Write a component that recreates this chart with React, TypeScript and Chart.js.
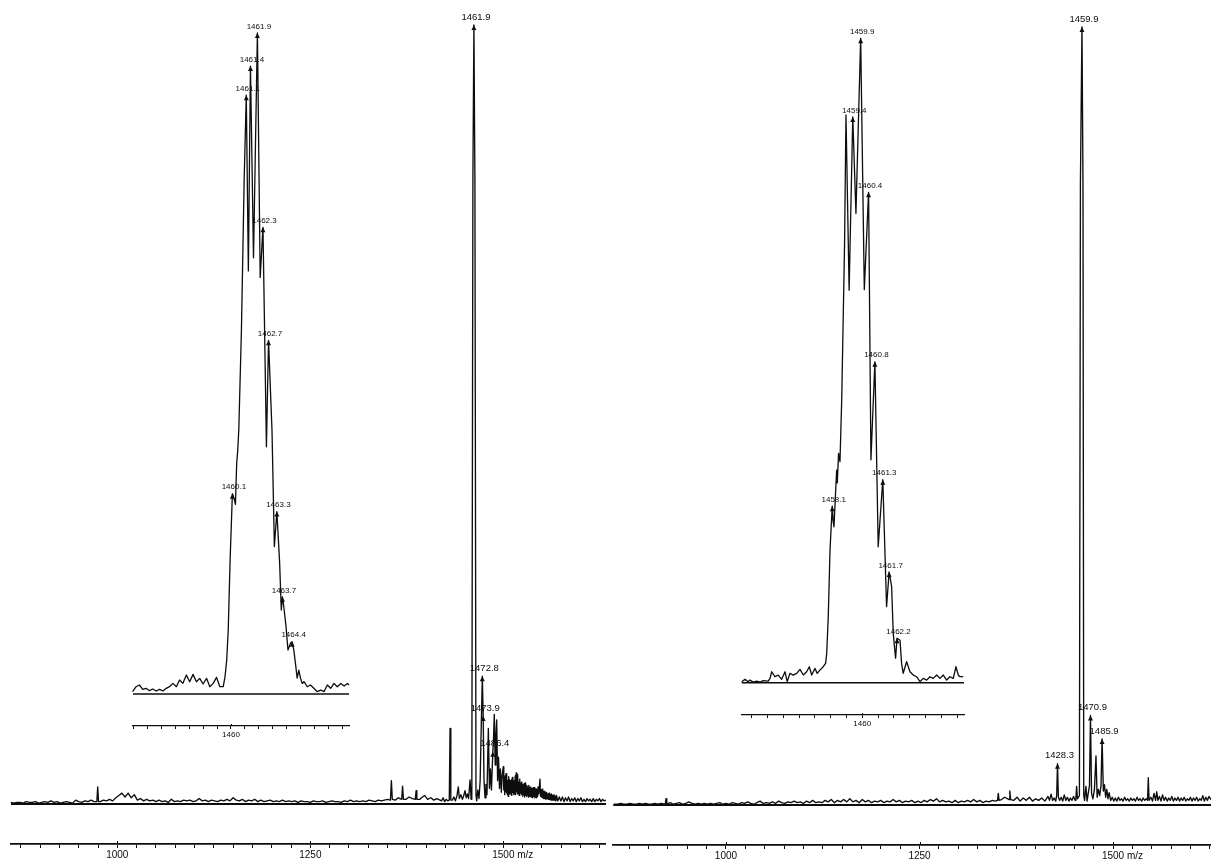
import React, { useEffect, useRef } from "react";
import { Chart, registerables } from "chart.js";

Chart.register(...registerables);

// ---------------- DATA ----------------
// Left spectrum (main peak m/z 1461.9), intensity in % of base peak
const leftMainTrace: [number, number][] = [
  [862,0.2],[866,0.1],[870,0.2],[874,0.2],[878,0.1],[882,0.3],[886,0.2],[890,0.2],[894,0.3],[898,0.1],
  [902,0.2],[906,0.3],[910,0.2],[914,0.4],[918,0.2],[922,0.3],[926,0.1],[930,0.2],[934,0.3],[938,0.2],
  [942,0.1],[946,0.5],[950,0.3],[954,0.2],[958,0.4],[962,0.3],[966,0.5],[970,0.3],[973.5,0.3],[974.6,2.2],
  [975.7,0.3],[978,0.3],[982,0.5],[986,0.4],[990,0.6],[994,0.4],[998,0.8],[1002,1.1],[1006,1.4],[1010,0.9],
  [1014,1.4],[1018,0.8],[1022,1.2],[1026,0.5],[1030,0.7],[1034,0.4],[1038,0.6],[1042,0.4],[1046,0.5],[1050,0.3],
  [1054,0.5],[1058,0.3],[1062,0.4],[1066,0.2],[1070,0.6],[1074,0.3],[1078,0.4],[1082,0.3],[1086,0.5],[1090,0.4],
  [1094,0.5],[1098,0.3],[1102,0.4],[1106,0.7],[1110,0.4],[1114,0.5],[1118,0.3],[1122,0.5],[1126,0.4],[1130,0.3],
  [1134,0.5],[1138,0.4],[1142,0.6],[1146,0.4],[1150,0.8],[1154,0.5],[1158,0.4],[1162,0.6],[1166,0.3],[1170,0.5],
  [1174,0.4],[1178,0.6],[1182,0.3],[1186,0.5],[1190,0.3],[1194,0.4],[1198,0.5],[1202,0.3],[1206,0.4],[1210,0.3],
  [1214,0.5],[1218,0.3],[1222,0.4],[1226,0.3],[1230,0.4],[1234,0.2],[1238,0.4],[1242,0.3],[1246,0.3],[1250,0.2],
  [1254,0.4],[1258,0.3],[1262,0.3],[1266,0.4],[1270,0.2],[1274,0.3],[1278,0.4],[1282,0.3],[1286,0.3],[1290,0.2],
  [1294,0.4],[1298,0.3],[1302,0.5],[1306,0.3],[1310,0.4],[1314,0.3],[1318,0.4],[1322,0.3],[1326,0.5],[1330,0.4],
  [1334,0.3],[1338,0.5],[1342,0.4],[1346,0.5],[1350,0.6],[1353.8,0.5],[1355,3.0],[1356.2,0.6],[1360,0.5],[1364,0.8],
  [1368.4,0.6],[1369.5,2.3],[1370.6,0.6],[1374,0.6],[1378,0.9],[1382,0.7],[1386,0.6],[1387,1.7],[1388,0.6],[1392,0.6],
  [1394,0.8],[1398,1.1],[1402,0.6],[1406,0.8],[1410,0.5],[1414,0.7],[1418,0.5],[1420,0.4],[1422,0.8],[1424,0.3],
  [1426,0.6],[1428,0.4],[1430,0.5],[1431,9.7],[1432,0.5],[1434,0.5],[1436,0.9],[1438,0.4],[1440,1.1],[1441.7,2.2],
  [1443,0.7],[1445,1.2],[1447,0.6],[1448.5,1.0],[1450.4,1.7],[1452,0.8],[1453.5,1.3],[1455,0.7],[1456.9,3.1],[1458.3,0.6],
  [1459.2,1.2],[1460.6,80],[1461.9,100],[1463.2,80],[1464.6,1.2],[1465.5,0.4],[1467,1.8],[1468.5,0.7],[1470,3],[1471.2,9],
  [1472.8,16.4],[1473.9,11.3],[1475,3],[1476.3,0.8],[1477.5,2.5],[1478.8,1.2],[1480.6,9.7],[1482,2],[1483.3,4.5],[1484.6,1.8],
  [1486.4,6.7],[1487.2,8],[1488.3,11.5],[1489.5,5],[1490.3,8.5],[1491.4,10.8],[1492.6,3],[1493.8,6],[1495,2],[1496.2,4.5],
  [1497.4,1.5],[1498.6,3.8],[1500,4.8],[1500.6,1.8],[1501.2,3.4],[1501.8,1.2],[1502.3,3.6],[1502.9,1.6],[1503.5,3.9],[1504.1,1.4],
  [1504.7,3.3],[1505.3,1.2],[1505.8,3.0],[1506.4,1.0],[1507,3.5],[1507.6,1.5],[1508.2,3.1],[1508.8,1.3],[1509.4,3.0],[1510,1.4],
  [1510.6,3.2],[1511.2,1.1],[1511.8,3.4],[1512.4,1.5],[1513,3.0],[1513.6,1.2],[1514.2,2.9],[1514.8,1.3],[1515.4,3.6],[1516,1.2],
  [1516.6,4.0],[1517.2,1.6],[1517.8,3.3],[1518.3,1.3],[1518.8,3.8],[1519.4,1.4],[1520,2.8],[1520.5,1.1],[1521,3.2],[1521.6,1.2],
  [1522.2,2.6],[1522.8,1.4],[1523.4,2.8],[1524,1.2],[1524.6,2.4],[1525.2,1.0],[1525.8,2.5],[1526.4,1.2],[1527,2.6],[1527.6,0.9],
  [1528.2,2.7],[1528.8,1.1],[1529.4,2.4],[1530,1.0],[1530.6,2.3],[1531.2,1.2],[1531.8,2.2],[1532.4,0.9],[1533,2.4],[1533.6,1.1],
  [1534.2,2.1],[1534.8,1.0],[1535.4,2.2],[1536,0.9],[1536.6,2.0],[1537.2,1.0],[1537.8,2.0],[1538.4,0.8],[1539,2.1],[1539.6,1.0],
  [1540.2,2.1],[1540.8,0.8],[1541.4,1.9],[1542,0.9],[1542.6,1.9],[1543.2,0.8],[1543.8,1.8],[1544.4,1.0],[1545,2.2],[1546,1.3],
  [1547.5,3.2],[1548.2,1.0],[1549,1.8],[1549.6,0.9],[1550.3,1.9],[1551,0.8],[1551.6,1.6],[1552.3,0.7],[1553,1.6],[1553.7,0.7],
  [1554.4,1.5],[1555.2,0.6],[1556,1.5],[1556.8,0.7],[1557.6,1.3],[1558.4,0.6],[1559.2,1.4],[1560,0.6],[1560.8,1.2],[1561.6,0.5],
  [1562.4,1.3],[1563.2,0.5],[1564,1.1],[1564.8,0.5],[1565.6,1.2],[1566.4,0.5],[1567.2,1.0],[1568,0.4],[1568.8,1.1],[1570.5,0.4],
  [1572.5,0.9],[1574.5,0.4],[1576.5,0.9],[1578.5,0.3],[1580.5,0.8],[1582.5,0.4],[1584.5,0.9],[1586.5,0.3],[1588.5,0.7],[1590.5,0.4],
  [1592.5,0.8],[1594.5,0.3],[1596.5,0.7],[1598.5,0.4],[1600.5,0.8],[1602.5,0.3],[1604.5,0.6],[1606.5,0.3],[1608.5,0.7],[1610.5,0.4],
  [1612.5,0.6],[1614.5,0.3],[1616.5,0.7],[1618.5,0.3],[1620.5,0.6],[1622.5,0.4],[1624.5,0.7],[1626.5,0.3],[1628.5,0.6],[1630.5,0.4],
  [1633,0.5],
];
const leftMainLabels = ["1461.9", "1472.8", "1473.9", "1486.4"];

// Left inset (zoom on 1452.9 - 1468.5)
const leftInsetTrace: [number, number][] = [
  [1452.92,0.35],[1453.17,1.1],[1453.41,1.36],[1453.65,0.71],[1453.89,0.86],[1454.13,0.5],[1454.37,0.76],[1454.62,0.45],
  [1454.86,0.71],[1455.1,0.45],[1455.34,0.86],[1455.58,1.11],[1455.82,1.61],[1456.07,1.11],[1456.3,2.12],[1456.54,1.61],
  [1456.79,2.87],[1457.03,1.86],[1457.27,2.97],[1457.51,1.86],[1457.75,2.37],[1457.99,1.51],[1458.24,2.37],[1458.48,1.11],
  [1458.72,1.61],[1458.96,2.52],[1459.2,1.11],[1459.44,1.11],[1459.57,2.6],[1459.69,5.1],[1459.8,9.6],[1459.93,19.8],
  [1460.1,30.3],[1460.22,29.6],[1460.32,28.7],[1460.41,34.9],[1460.48,36.7],[1460.56,39.9],[1460.75,55],[1460.95,78],
  [1461.1,90.6],[1461.25,64],[1461.4,95],[1461.62,66],[1461.9,100],[1462.1,63],[1462.3,70.6],[1462.55,37.4],
  [1462.7,53.5],[1462.95,39.9],[1463.12,22.3],[1463.3,27.6],[1463.5,19.8],[1463.62,12.7],[1463.7,14.7],[1463.8,13.2],
  [1463.96,10.2],[1464.1,6.65],[1464.28,7.7],[1464.4,7.9],[1464.52,6.65],[1464.64,4.6],[1464.76,2.4],[1464.88,3.6],
  [1465.0,2.4],[1465.13,1.6],[1465.25,1.86],[1465.49,1.1],[1465.72,1.36],[1465.96,0.86],[1466.2,0.35],[1466.45,0.6],
  [1466.69,0.35],[1466.93,1.36],[1467.17,0.86],[1467.41,1.6],[1467.65,1.1],[1467.9,1.6],[1468.14,1.2],[1468.38,1.6],
  [1468.49,1.36],
];
const leftInsetLabels = ["1461.9","1461.4","1461.1","1462.3","1462.7","1460.1","1463.3","1463.7","1464.4"];

// Right spectrum (main peak m/z 1459.9)
const rightMainTrace: [number, number][] = [
  [855,0.1],[860,0.1],[864,0.2],[868,0.1],[872,0.1],[876,0.2],[880,0.1],[884,0.1],[888,0.2],[892,0.1],
  [896,0.2],[900,0.1],[904,0.1],[908,0.2],[912,0.1],[916,0.2],[921.5,0.1],[922.5,0.8],[923.5,0.1],[928,0.3],
  [932,0.1],[936,0.2],[940,0.3],[944,0.1],[948,0.2],[952,0.4],[956,0.2],[960,0.1],[964,0.2],[968,0.1],
  [972,0.2],[976,0.1],[980,0.2],[984,0.1],[988,0.2],[992,0.3],[996,0.1],[1000,0.2],[1004,0.1],[1008,0.3],
  [1012,0.2],[1016,0.1],[1020,0.3],[1024,0.2],[1028,0.4],[1032,0.2],[1036,0.1],[1040,0.3],[1044,0.5],[1048,0.2],
  [1052,0.3],[1056,0.2],[1060,0.4],[1064,0.2],[1068,0.5],[1072,0.3],[1076,0.2],[1080,0.4],[1084,0.3],[1088,0.5],
  [1092,0.3],[1096,0.4],[1100,0.2],[1104,0.5],[1108,0.3],[1112,0.6],[1116,0.3],[1120,0.4],[1124,0.3],[1128,0.6],
  [1132,0.4],[1136,0.7],[1140,0.3],[1144,0.6],[1148,0.4],[1152,0.7],[1156,0.4],[1160,0.8],[1164,0.4],[1168,0.6],
  [1172,0.3],[1176,0.7],[1180,0.4],[1184,0.6],[1188,0.3],[1192,0.5],[1196,0.4],[1200,0.6],[1204,0.3],[1208,0.5],
  [1212,0.4],[1216,0.7],[1220,0.4],[1224,0.6],[1228,0.3],[1232,0.5],[1236,0.4],[1240,0.6],[1244,0.3],[1248,0.5],
  [1252,0.3],[1256,0.6],[1260,0.4],[1264,0.7],[1268,0.5],[1272,0.8],[1276,0.4],[1280,0.6],[1284,0.4],[1288,0.5],
  [1292,0.3],[1296,0.6],[1300,0.3],[1304,0.5],[1308,0.4],[1312,0.6],[1316,0.4],[1320,0.7],[1324,0.4],[1328,0.6],
  [1332,0.3],[1336,0.5],[1340,0.4],[1344,0.6],[1348,0.5],[1350.8,0.6],[1351.8,1.5],[1352.8,0.6],[1356,0.7],[1360,1.0],
  [1364,0.8],[1365.7,0.7],[1366.7,1.8],[1367.7,0.7],[1372,0.6],[1376,1.0],[1380,0.5],[1384,0.9],[1388,0.6],[1392,1.0],
  [1396,0.5],[1400,0.8],[1404,0.6],[1408,0.9],[1412,0.5],[1416,1.1],[1418,0.6],[1420,1.4],[1422,0.6],[1424,0.9],
  [1426,0.5],[1427.2,1.2],[1428.3,5.3],[1429.4,1.0],[1431,0.6],[1433,1.0],[1435,0.5],[1437,1.3],[1439,0.6],[1441,1.0],
  [1443,0.5],[1445,0.9],[1447,0.6],[1449,1.1],[1451,0.6],[1452,0.8],[1453,2.4],[1454,0.8],[1456.6,1.2],[1457.9,80],
  [1459.9,100],[1461.2,80],[1462.2,1.2],[1463.3,0.6],[1465,2.4],[1466.5,0.5],[1468,1.5],[1469.6,2.5],[1470.9,11.5],[1472.3,1.5],
  [1474,0.8],[1476,2],[1478,6.3],[1479.5,1],[1481,2],[1482.8,1.2],[1484.5,2.5],[1485.9,8.5],[1487.5,1.8],[1489,2.6],
  [1490.5,1.0],[1492,2.0],[1493.5,0.8],[1495,1.6],[1497,0.6],[1499,1.0],[1501,0.5],[1503,0.9],[1505,0.5],[1507,1.0],
  [1509,0.6],[1511,0.8],[1513,0.5],[1515,1.0],[1517,0.6],[1519,0.8],[1521,0.5],[1523,0.9],[1525,0.6],[1527,0.8],
  [1529,0.5],[1531,1.0],[1533,0.6],[1535,0.8],[1537,0.5],[1539,0.9],[1541,0.6],[1543,0.8],[1544.6,0.6],[1545.6,3.5],
  [1546.6,0.6],[1549,1.0],[1551,0.5],[1553,1.5],[1555,0.6],[1556.5,1.7],[1558,0.6],[1560,1.1],[1562,0.5],[1564,1.3],
  [1566,0.6],[1568,1.0],[1570,0.5],[1572,0.9],[1574,0.6],[1576,1.1],[1578,0.5],[1580,0.9],[1582,0.6],[1584,1.0],
  [1586,0.5],[1588,0.9],[1590,0.6],[1592,1.0],[1594,0.5],[1596,0.8],[1598,0.6],[1600,1.0],[1602,0.5],[1604,0.9],
  [1606,0.6],[1608,1.0],[1610,0.5],[1612,0.8],[1614,0.6],[1616,1.2],[1618,0.5],[1620,1.0],[1622,0.6],[1624,1.1],
  [1626.6,0.7],
];
const rightMainLabels = ["1459.9", "1428.3", "1470.9", "1485.9"];

// Right inset (zoom on 1452.4 - 1466.4)
const rightInsetTrace: [number, number][] = [
  [1452.37,0.16],[1452.58,0.52],[1452.78,0.16],[1452.89,0.41],[1453.1,0.1],[1453.32,0.26],[1453.53,0.1],[1453.73,0.31],
  [1454.05,0.26],[1454.16,0.67],[1454.27,1.7],[1454.47,0.93],[1454.68,1.19],[1454.9,0.52],[1455.11,1.7],[1455.25,0.16],
  [1455.42,1.45],[1455.63,1.19],[1455.85,1.45],[1456.06,2.07],[1456.27,1.19],[1456.48,1.7],[1456.65,2.48],[1456.8,1.19],
  [1457.01,2.22],[1457.15,1.45],[1457.32,1.96],[1457.53,2.48],[1457.68,3.0],[1457.75,4.55],[1457.85,10.3],[1457.96,20.6],
  [1458.1,27.4],[1458.16,25.0],[1458.21,24.2],[1458.29,28.4],[1458.38,33.0],[1458.42,31.0],[1458.5,35.6],[1458.59,34.3],
  [1458.7,43.9],[1458.88,68],[1458.97,88.1],[1459.17,60.9],[1459.4,87.8],[1459.6,72.8],[1459.9,100],[1460.13,61],
  [1460.4,76.1],[1460.55,34.6],[1460.8,49.8],[1461.01,21.1],[1461.3,31.5],[1461.54,11.8],[1461.7,17.2],[1461.86,14.9],
  [1461.96,7.7],[1462.11,3.8],[1462.2,6.9],[1462.39,6.6],[1462.49,3.0],[1462.59,1.46],[1462.81,3.26],[1463.02,1.7],
  [1463.23,1.19],[1463.44,0.93],[1463.65,0.16],[1463.86,0.67],[1464.08,0.41],[1464.28,0.93],[1464.49,0.67],[1464.71,1.19],
  [1464.92,0.67],[1465.13,1.19],[1465.34,0.41],[1465.55,0.93],[1465.76,0.67],[1465.93,2.48],[1466.08,1.19],[1466.18,0.93],
  [1466.39,0.93],
];
const rightInsetLabels = ["1459.9","1459.4","1460.4","1460.8","1461.3","1458.1","1461.7","1462.2"];

// Axis ticks
const mainTicks = [875,900,925,950,975,1000,1025,1050,1075,1100,1125,1150,1175,1200,1225,1250,1275,1300,1325,1350,1375,1400,1425,1450,1475,1500,1525,1550,1575,1600,1625];
const mainTickLabels = [1000, 1250, 1500];
const leftInsetTicks = [1453,1454,1455,1456,1457,1458,1459,1460,1461,1462,1463,1464,1465,1466,1467,1468];
const rightInsetTicks = [1453,1454,1455,1456,1457,1458,1459,1460,1461,1462,1463,1464,1465,1466];
const insetTickLabels = [1460];
const unitText = "m/z";

// ---------------- RENDERING ----------------
const INK = "#0d0d0d";
const FONT = '"Liberation Sans", Arial, Helvetica, sans-serif';

type Pt = [number, number];
interface PanelSpec {
  key: string;
  box: { left: number; top: number; width: number; height: number };
  pad: { left: number; right: number; top: number };
  axisH: number;
  xr: [number, number];
  yr: [number, number];
  trace: Pt[];
  ticks: number[];
  majors: number[];
  labels: string[];
  tickFont: number;
  tickLen: number;
  tickPad: number;
  majorUp: number;
  labelFont: number;
  labelDx: number;
  labelDy: number;
  lineW: number;
  baseW: number;
  axisW: number;
  unitAt?: number;
  unitDx?: number;
}

function makeMarks(s: PanelSpec) {
  return {
    id: "marks" + s.key,
    afterDraw(chart: any) {
      const ctx: CanvasRenderingContext2D = chart.ctx;
      const xs = chart.scales.x;
      const ys = chart.scales.y;
      const bottom = chart.chartArea.bottom;
      ctx.save();
      ctx.fillStyle = INK;
      ctx.strokeStyle = INK;
      ctx.lineWidth = 1;
      s.majors.forEach((v) => {
        const px = Math.round(xs.getPixelForValue(v)) + 0.5;
        ctx.beginPath();
        ctx.moveTo(px, bottom - s.majorUp);
        ctx.lineTo(px, bottom);
        ctx.stroke();
      });
      ctx.font = `${s.labelFont}px ${FONT}`;
      ctx.textAlign = "center";
      ctx.textBaseline = "middle";
      s.labels.forEach((t) => {
        const mz = parseFloat(t);
        let best = s.trace[0];
        s.trace.forEach((p) => {
          if (Math.abs(p[0] - mz) < Math.abs(best[0] - mz)) best = p;
        });
        const px = xs.getPixelForValue(best[0]);
        const py = ys.getPixelForValue(best[1]);
        ctx.beginPath();
        ctx.moveTo(px, py);
        ctx.lineTo(px - 2.5, py + 5);
        ctx.lineTo(px + 2.5, py + 5);
        ctx.closePath();
        ctx.fill();
        ctx.fillText(t, px + s.labelDx, py - s.labelDy);
      });
      if (s.unitAt !== undefined) {
        ctx.font = `${s.tickFont}px ${FONT}`;
        const px = xs.getPixelForValue(s.unitAt) + (s.unitDx || 0);
        ctx.fillText(unitText, px, bottom + s.tickLen + s.tickPad + s.tickFont * 0.6);
      }
      ctx.restore();
    },
  };
}

function Panel({ spec }: { spec: PanelSpec }) {
  const ref = useRef<HTMLCanvasElement>(null);
  useEffect(() => {
    const s = spec;
    const chart = new Chart(ref.current as HTMLCanvasElement, {
      type: "line",
      data: {
        datasets: [
          {
            data: s.trace.map(([x, y]) => ({ x, y })),
            borderColor: INK,
            borderWidth: s.lineW,
            pointRadius: 0,
            tension: 0,
            fill: false,
            clip: false as any,
            borderJoinStyle: "round",
          },
          {
            data: [
              { x: s.xr[0], y: 0 },
              { x: s.xr[1], y: 0 },
            ],
            borderColor: INK,
            borderWidth: s.baseW,
            pointRadius: 0,
            fill: false,
            clip: false as any,
          },
        ],
      },
      options: {
        responsive: false,
        animation: false,
        events: [],
        layout: { padding: { left: s.pad.left, right: s.pad.right, top: s.pad.top, bottom: 0 } },
        plugins: { legend: { display: false }, tooltip: { enabled: false } },
        scales: {
          x: {
            type: "linear",
            position: "bottom",
            min: s.xr[0],
            max: s.xr[1],
            afterBuildTicks: (sc: any) => {
              sc.ticks = s.ticks.map((v) => ({ value: v }));
            },
            afterFit: (sc: any) => {
              sc.height = s.axisH;
            },
            ticks: {
              autoSkip: false,
              maxRotation: 0,
              minRotation: 0,
              padding: s.tickPad,
              color: INK,
              font: { family: FONT, size: s.tickFont },
              callback: (v: any) => (s.majors.includes(Number(v)) ? String(v) : ""),
            },
            grid: { drawOnChartArea: false, drawTicks: true, tickLength: s.tickLen, color: INK, lineWidth: 1 },
            border: { display: true, color: INK, width: s.axisW },
          },
          y: { type: "linear", display: false, min: s.yr[0], max: s.yr[1] },
        },
      } as any,
      plugins: [makeMarks(s)],
    });
    return () => chart.destroy();
  }, [spec]);
  const b = spec.box;
  return (
    <canvas
      ref={ref}
      width={b.width}
      height={b.height}
      style={{ position: "absolute", left: b.left, top: b.top, width: b.width, height: b.height }}
    />
  );
}

const panels: PanelSpec[] = [
  {
    key: "lm", box: { left: 0, top: 0, width: 606, height: 859 }, pad: { left: 11, right: 0, top: 25 }, axisH: 15,
    xr: [862.3, 1633], yr: [-5.135, 100], trace: leftMainTrace, ticks: mainTicks, majors: mainTickLabels,
    labels: leftMainLabels, tickFont: 10, tickLen: 4, tickPad: 1, majorUp: 3, labelFont: 9.5, labelDx: 2, labelDy: 8,
    lineW: 1.35, baseW: 2, axisW: 1.7, unitAt: 1500, unitDx: 22,
  },
  {
    key: "rm", box: { left: 606, top: 0, width: 605, height: 859 }, pad: { left: 7.3, right: 0, top: 27 }, axisH: 14,
    xr: [854.4, 1626.6], yr: [-5.14, 100], trace: rightMainTrace, ticks: mainTicks, majors: mainTickLabels,
    labels: rightMainLabels, tickFont: 10, tickLen: 4, tickPad: 1, majorUp: 3, labelFont: 9.5, labelDx: 2, labelDy: 8,
    lineW: 1.35, baseW: 2, axisW: 1.7, unitAt: 1500, unitDx: 22,
  },
  {
    key: "li", box: { left: 120, top: 0, width: 240, height: 745 }, pad: { left: 13, right: 11, top: 33 }, axisH: 19,
    xr: [1452.95, 1468.49], yr: [-4.84, 100], trace: leftInsetTrace, ticks: leftInsetTicks, majors: insetTickLabels,
    labels: leftInsetLabels, tickFont: 8, tickLen: 3, tickPad: 1, majorUp: 2, labelFont: 8, labelDx: 1.5, labelDy: 6.5,
    lineW: 1.3, baseW: 1.4, axisW: 1.2,
  },
  {
    key: "ri", box: { left: 730, top: 0, width: 245, height: 735 }, pad: { left: 11.7, right: 11, top: 38.3 }, axisH: 20,
    xr: [1452.37, 1466.44], yr: [-5.01, 100], trace: rightInsetTrace, ticks: rightInsetTicks, majors: insetTickLabels,
    labels: rightInsetLabels, tickFont: 8, tickLen: 3, tickPad: 1, majorUp: 2, labelFont: 8, labelDx: 1.5, labelDy: 6.5,
    lineW: 1.3, baseW: 1.4, axisW: 1.2,
  },
];

export default function App() {
  return (
    <div style={{ position: "fixed", left: 0, top: 0, width: 1211, height: 859, background: "#fff", overflow: "hidden" }}>
      {panels.map((p) => (
        <Panel key={p.key} spec={p} />
      ))}
    </div>
  );
}
